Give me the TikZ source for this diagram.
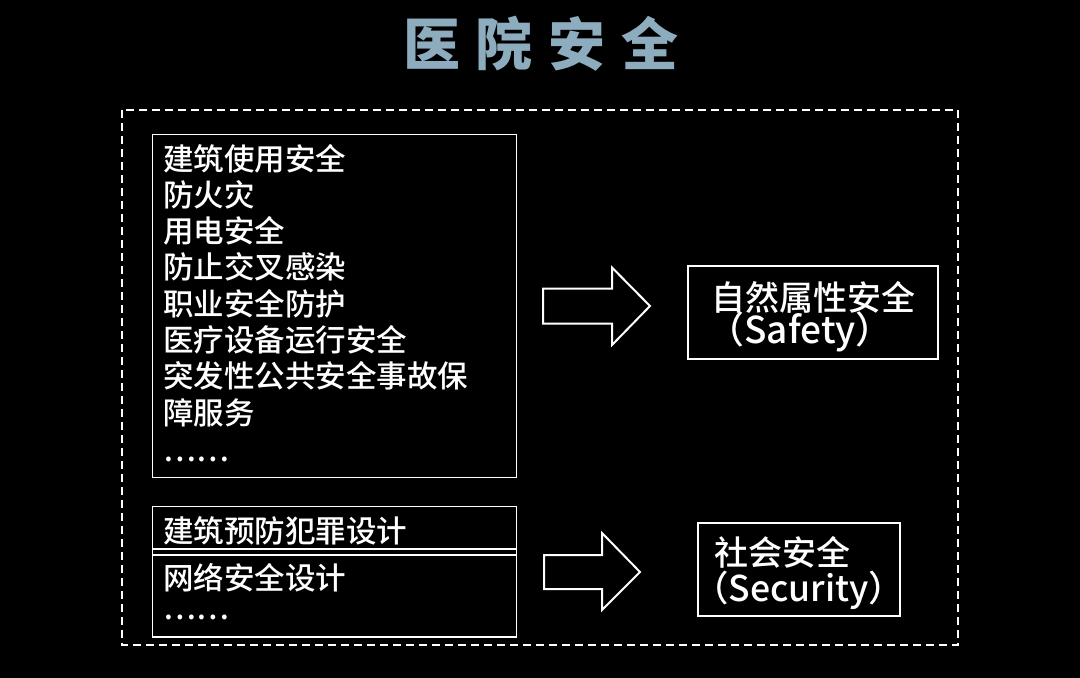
\documentclass[tikz,border=0pt]{standalone}
\usepackage{fontspec}
\setmainfont{Noto Sans CJK SC Medium}
\newfontfamily\cjkbold{Noto Sans CJK SC Black}
\definecolor{titleblue}{RGB}{141,172,190}
\begin{document}
\begin{tikzpicture}[x=1pt,y=-1pt,
  line/.style={draw=white,line width=1.8pt},
  listtext/.style={text=white,font=\fontsize{30.5}{36}\selectfont,anchor=base west,inner sep=0pt},
  restext/.style={text=white,font=\fontsize{34}{36}\selectfont,anchor=base,inner sep=0pt},
  latintext/.style={text=white,font=\fontsize{37}{36}\selectfont,anchor=base,inner sep=0pt},
  blockarrow/.style={draw=white,line width=2pt,fill=black,line join=miter}]
\useasboundingbox[fill=black] (0,0) rectangle (1080,678);
% title
\node[text=titleblue,font=\cjkbold\fontsize{57}{60}\selectfont,inner sep=0pt] (title) at (541,44) {医\hspace{16pt}院\hspace{16pt}安\hspace{16pt}全};
% outer dashed frame
\draw[draw=white,line width=2pt,dash pattern=on 8pt off 5pt] (122,110) rectangle (958,645);
% box 1
\node[line,rectangle,minimum width=364pt,minimum height=343pt,anchor=north west,inner sep=0pt] (box1) at (151.5,133.5) {};
\foreach \t [count=\i from 0] in {建筑使用安全,防火灾,用电安全,防止交叉感染,职业安全防护,医疗设备运行安全,突发性公共安全事故保,障服务}
  \node[listtext] (l\i) at (163,{170+36.3*\i}) {\t};
\node[listtext] (l8) at (163,461) {……};
% box 2
\node[line,rectangle,minimum width=364pt,minimum height=130.5pt,anchor=north west,inner sep=0pt] (box2) at (151.5,505.5) {};
\draw[line] (box2.west |- 0,549) -- (box2.east |- 0,549);
\draw[line] (box2.west |- 0,555) -- (box2.east |- 0,555);
\node[listtext] (m1) at (163,542) {建筑预防犯罪设计};
\node[listtext] (m2) at (163,589) {网络安全设计};
\node[listtext] (m3) at (163,619) {……};
% result boxes
\node[line,rectangle,minimum width=250pt,minimum height=93pt,anchor=north west,inner sep=0pt] (safety) at (687,265) {};
\node[restext] (s1) at (813,310) {自然属性安全};
\node[latintext] (s2) at (800,343) {（Safety）};
\node[line,rectangle,minimum width=202pt,minimum height=93pt,anchor=north west,inner sep=0pt] (security) at (697,522) {};
\node[restext,anchor=base west] (c1) at (714,565) {社会安全};
\node[latintext,font=\fontsize{35.5}{36}\selectfont,anchor=base west] (c2) at (693,601) {（Security）};
% block arrows
\draw[blockarrow] (543,288.5) -- (612,288.5) -- (612,267.5) -- (650,306) -- (612,345) -- (612,323.5) -- (543,323.5) -- cycle;
\draw[blockarrow] (544,555) -- (602,555) -- (602,533) -- (640,572) -- (602,610) -- (602,589) -- (544,589) -- cycle;
\end{tikzpicture}
\end{document}
